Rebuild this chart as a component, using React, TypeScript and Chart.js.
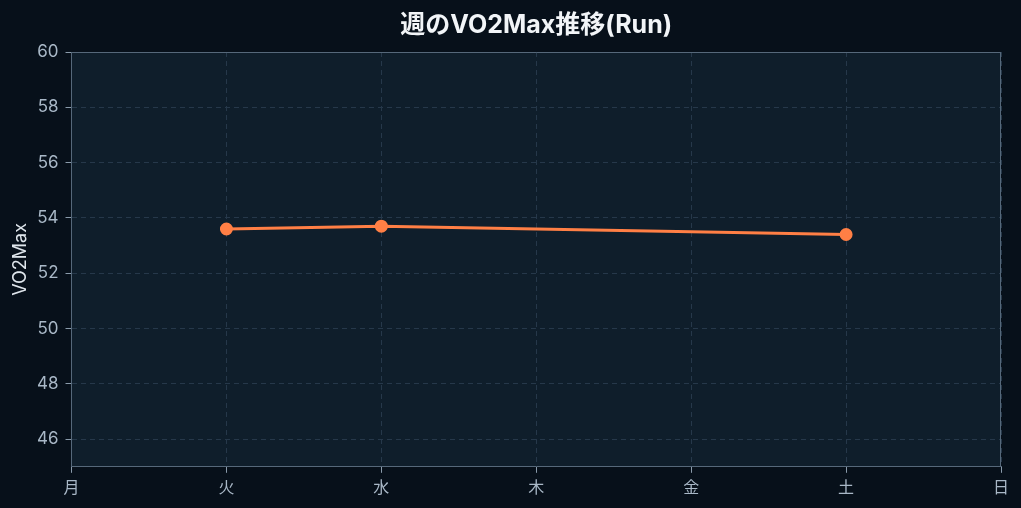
import React, { useEffect, useRef } from "react";
import { Chart, registerables } from "chart.js";

Chart.register(...registerables);

const days = ["月", "火", "水", "木", "金", "土", "日"];
const vo2max: (number | null)[] = [null, 53.6, 53.7, null, null, 53.4, null];
const yMin = 45;
const yMax = 60;
const yStep = 2;
const titleText = "週のVO2Max推移(Run)";
const yTitle = "VO2Max";

const PAGE_BG = "#07101a";
const PLOT_BG = "#0f1e2b";
const FONT = "Inter, 'Noto Sans CJK JP', sans-serif";

const areaPlugin = {
  id: "areaBg",
  beforeDraw(chart: any) {
    const { ctx, chartArea } = chart;
    if (!chartArea) return;
    ctx.save();
    ctx.fillStyle = PLOT_BG;
    ctx.fillRect(chartArea.left, chartArea.top, chartArea.right - chartArea.left, chartArea.bottom - chartArea.top);
    ctx.restore();
  },
  afterDraw(chart: any) {
    const { ctx, chartArea } = chart;
    if (!chartArea) return;
    ctx.save();
    ctx.strokeStyle = "#56687a";
    ctx.lineWidth = 1;
    ctx.beginPath();
    ctx.moveTo(chartArea.left, chartArea.top + 0.5);
    ctx.lineTo(chartArea.right, chartArea.top + 0.5);
    ctx.moveTo(chartArea.right - 0.5, chartArea.top);
    ctx.lineTo(chartArea.right - 0.5, chartArea.bottom);
    ctx.stroke();
    ctx.restore();
  },
};

export default function App() {
  const ref = useRef<HTMLCanvasElement>(null);
  useEffect(() => {
    document.body.style.margin = "0";
    document.body.style.background = PAGE_BG;
    const chart = new Chart(ref.current!, {
      type: "line",
      data: {
        labels: days,
        datasets: [
          {
            label: "VO2Max",
            data: vo2max,
            borderColor: "#ff7f45",
            backgroundColor: "#ff7f45",
            borderWidth: 3,
            pointRadius: 5,
            pointHoverRadius: 6,
            pointBackgroundColor: "#ff7f45",
            pointBorderColor: "#ff7f45",
            spanGaps: true,
            tension: 0,
          },
        ],
      },
      options: {
        animation: false,
        responsive: false,
        maintainAspectRatio: false,
        layout: { padding: { left: 9, right: 20, top: 10, bottom: 4 } },
        plugins: {
          legend: { display: false },
          tooltip: { enabled: false },
          title: {
            display: true,
            fullSize: false,
            text: titleText,
            color: "#f2f5f8",
            font: { family: FONT, size: 25, weight: "bold" },
            padding: { top: 0, bottom: 12 },
          },
        },
        scales: {
          x: {
            offset: false,
            grid: {
              color: "#26384a",
              tickColor: "#8a9bab",
              tickLength: 6,
              drawTicks: true,
            },
            border: { display: true, color: "#56687a", dash: [5, 4] },
            ticks: { color: "#a9b8c7", font: { family: FONT, size: 16 }, padding: 6, maxRotation: 0 },
          },
          y: {
            min: yMin,
            max: yMax,
            afterBuildTicks: (axis: any) => {
              axis.ticks = axis.ticks.filter((t: any) => t.value !== yMin);
            },
            grid: {
              color: "#26384a",
              tickColor: "#8a9bab",
              tickLength: 6,
            },
            border: { display: true, color: "#56687a", dash: [5, 4] },
            ticks: { stepSize: yStep, color: "#a9b8c7", font: { family: FONT, size: 17 }, padding: 7 },
            title: {
              display: true,
              text: yTitle,
              color: "#dfe6ec",
              font: { family: FONT, size: 18, lineHeight: 1.0 },
              padding: { top: 3, bottom: 0 },
            },
          },
        },
      },
      plugins: [areaPlugin],
    });
    return () => chart.destroy();
  }, []);
  return (
    <div style={{ width: 1021, height: 508, background: PAGE_BG }}>
      <canvas ref={ref} width={1021} height={508} style={{ display: "block" }} />
    </div>
  );
}
